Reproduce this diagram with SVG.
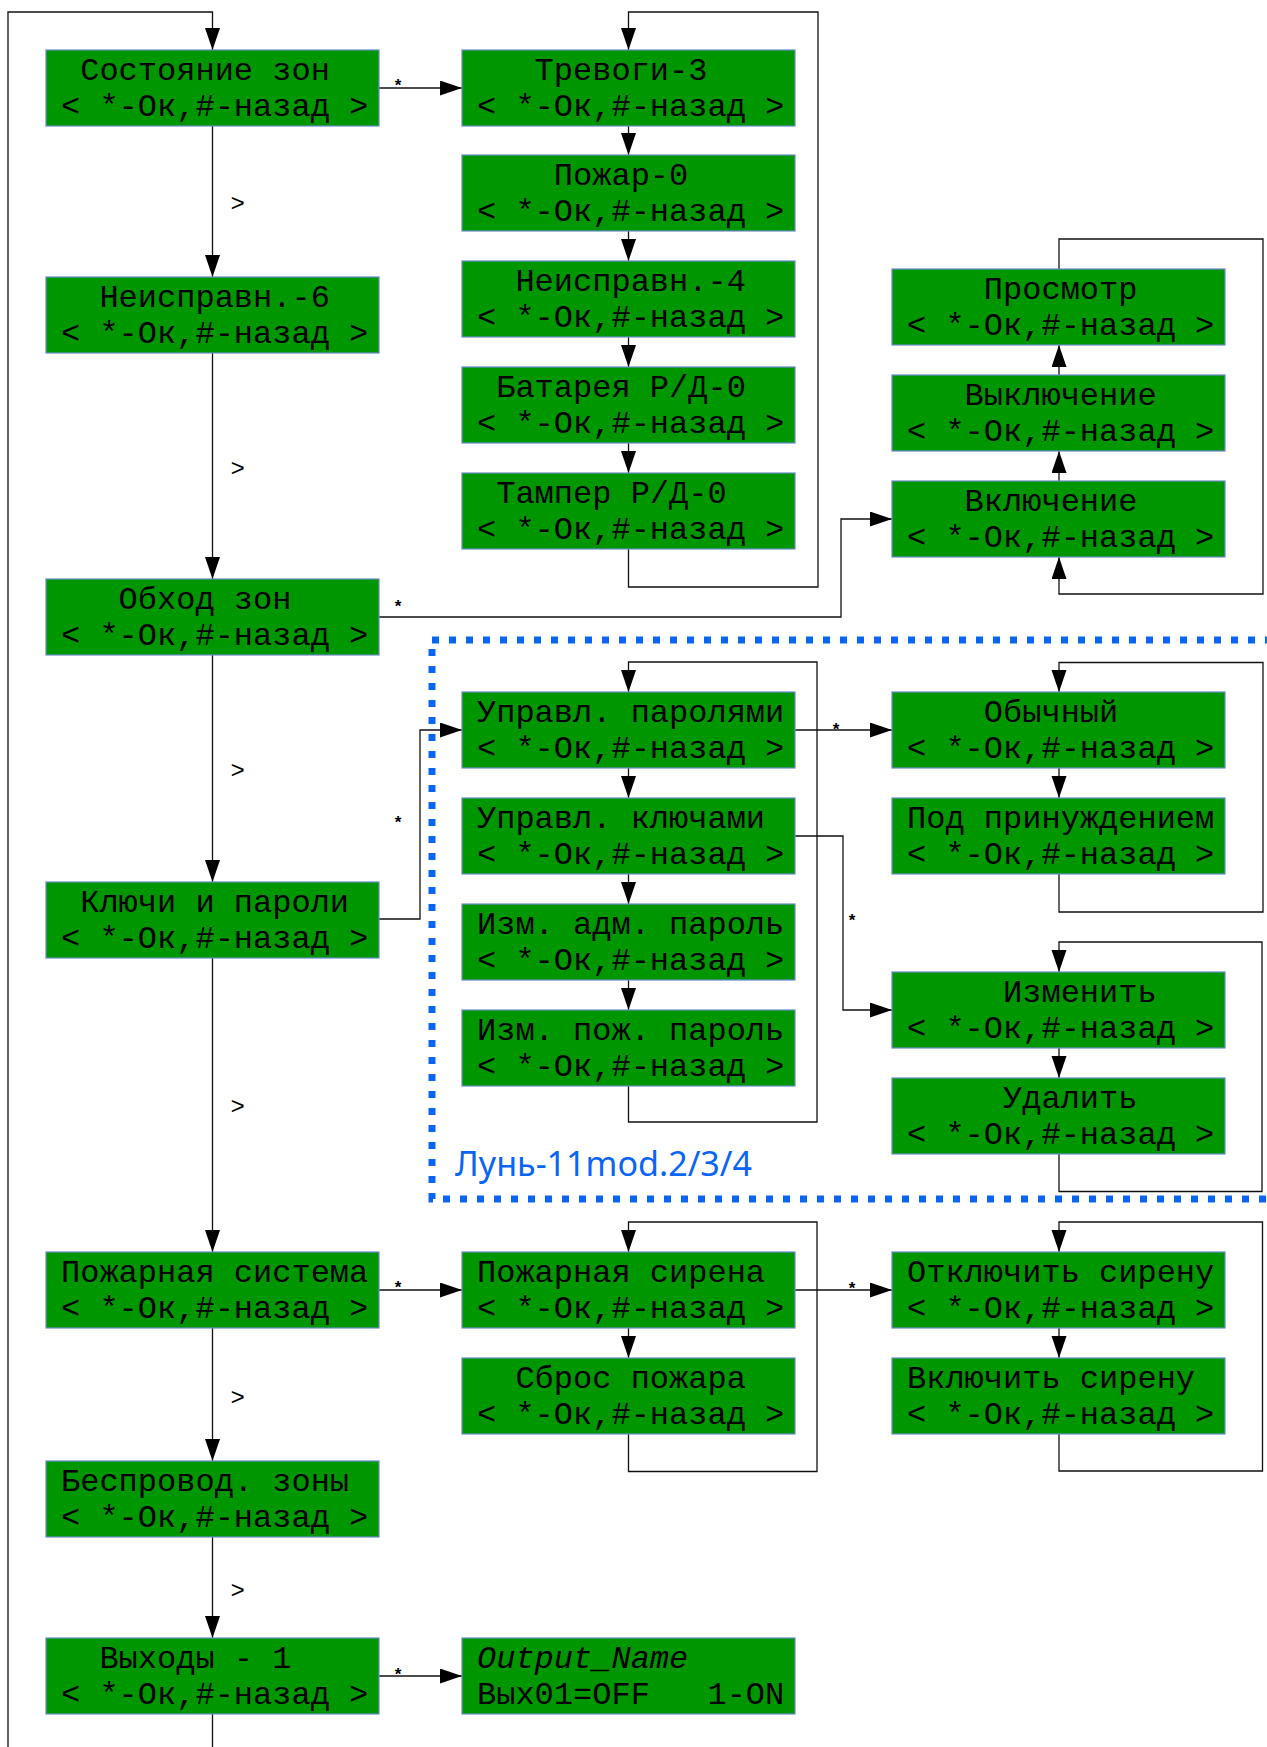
<svg xmlns="http://www.w3.org/2000/svg" width="1267" height="1747" viewBox="0 0 1267 1747">
<style>
.box{fill:#009600;stroke:#6a8cc8;stroke-width:1.2}
.t{font-family:"Liberation Mono","DejaVu Sans Mono",monospace;font-size:32px;fill:#000}
.it{font-style:italic}
.c{fill:none;stroke:#111;stroke-width:1.3}
.a{marker-end:url(#ah)}
.gt{font-family:"Liberation Mono",monospace;font-size:24px;fill:#000}
.st{font-family:"Liberation Sans",Arial,sans-serif;font-size:17px;font-weight:bold;fill:#000;text-anchor:middle}
.lbl{font-family:"Noto Sans","Open Sans",sans-serif;font-size:34px;fill:#0a64f5}
</style>
<defs>
<marker id="ah" markerUnits="userSpaceOnUse" markerWidth="22" markerHeight="16" refX="22" refY="7.5" orient="auto"><path d="M0,0 L22,7.5 L0,15 z" fill="#000"/></marker>
</defs>
<rect x="0" y="0" width="1267" height="1747" fill="#fff"/>

<g id="group-lun">
<rect x="432" y="640" width="860" height="559" fill="none" stroke="#0a64f5" stroke-width="7" stroke-dasharray="7 10"/>
<text class="lbl" x="455" y="1176" textLength="297" lengthAdjust="spacingAndGlyphs">Лунь-11mod.2/3/4</text>
</g>

<g id="connectors">
<path class="c a" d="M212.5,126 V277"/>
<path class="c a" d="M212.5,353 V579"/>
<path class="c a" d="M212.5,655 V882"/>
<path class="c a" d="M212.5,958 V1252"/>
<path class="c a" d="M212.5,1328 V1461"/>
<path class="c a" d="M212.5,1537 V1638"/>
<path class="c" d="M212.5,1714 V1747"/>
<path class="c a" d="M8,1747 V12 H212.5 V50"/>
<path class="c a" d="M379,88 H462"/>
<path class="c a" d="M628.5,126 V155"/>
<path class="c a" d="M628.5,231 V261"/>
<path class="c a" d="M628.5,337 V367"/>
<path class="c a" d="M628.5,443 V473"/>
<path class="c a" d="M628.5,549 V587 H818 V12 H628.5 V50"/>
<path class="c a" d="M379,617 H841 V519 H892"/>
<path class="c a" d="M1059,481 V451"/>
<path class="c a" d="M1059,375 V345"/>
<path class="c a" d="M1059,269 V239 H1263 V594 H1059 V557"/>
<path class="c a" d="M379,919 H420 V730 H462"/>
<path class="c a" d="M628.5,768 V798"/>
<path class="c a" d="M628.5,874 V904"/>
<path class="c a" d="M628.5,980 V1010"/>
<path class="c a" d="M628.5,1086 V1122 H817 V662 H628.5 V692"/>
<path class="c a" d="M795,730 H892"/>
<path class="c a" d="M1059,768 V798"/>
<path class="c a" d="M1059,874 V912 H1263 V662.5 H1059 V692"/>
<path class="c a" d="M795,836 H843 V1010 H892"/>
<path class="c a" d="M1059,1048 V1078"/>
<path class="c a" d="M1059,1154 V1191.5 H1262 V942 H1059 V972"/>
<path class="c a" d="M379,1290 H462"/>
<path class="c a" d="M628.5,1328 V1358"/>
<path class="c a" d="M628.5,1434 V1471.5 H817 V1222 H628.5 V1252"/>
<path class="c a" d="M795,1290 H892"/>
<path class="c a" d="M1059,1328 V1358"/>
<path class="c a" d="M1059,1434 V1471 H1262.5 V1222 H1059 V1252"/>
<path class="c a" d="M379,1676 H462"/>
<text class="gt" x="230.5" y="211">&gt;</text>
<text class="gt" x="230.5" y="476">&gt;</text>
<text class="gt" x="230.5" y="778">&gt;</text>
<text class="gt" x="230.5" y="1114">&gt;</text>
<text class="gt" x="230.5" y="1405">&gt;</text>
<text class="gt" x="230.5" y="1598">&gt;</text>
<text class="st" x="398" y="91">*</text>
<text class="st" x="398" y="612">*</text>
<text class="st" x="398" y="828">*</text>
<text class="st" x="836" y="735">*</text>
<text class="st" x="852" y="926">*</text>
<text class="st" x="398" y="1293">*</text>
<text class="st" x="852" y="1294">*</text>
<text class="st" x="398" y="1680">*</text>
</g>

<g id="n-sostoyanie"><rect class="box" x="46" y="50" width="333" height="76"/><text class="t" xml:space="preserve" x="61" y="80"> Состояние зон</text><text class="t" xml:space="preserve" x="61" y="116">&lt; *-Ок,#-назад &gt;</text></g>
<g id="n-neispravn6"><rect class="box" x="46" y="277" width="333" height="76"/><text class="t" xml:space="preserve" x="61" y="307">  Неисправн.-6</text><text class="t" xml:space="preserve" x="61" y="343">&lt; *-Ок,#-назад &gt;</text></g>
<g id="n-obhod"><rect class="box" x="46" y="579" width="333" height="76"/><text class="t" xml:space="preserve" x="61" y="609">   Обход зон</text><text class="t" xml:space="preserve" x="61" y="645">&lt; *-Ок,#-назад &gt;</text></g>
<g id="n-klyuchi"><rect class="box" x="46" y="882" width="333" height="76"/><text class="t" xml:space="preserve" x="61" y="912"> Ключи и пароли</text><text class="t" xml:space="preserve" x="61" y="948">&lt; *-Ок,#-назад &gt;</text></g>
<g id="n-pozh-sistema"><rect class="box" x="46" y="1252" width="333" height="76"/><text class="t" xml:space="preserve" x="61" y="1282">Пожарная система</text><text class="t" xml:space="preserve" x="61" y="1318">&lt; *-Ок,#-назад &gt;</text></g>
<g id="n-besprovod"><rect class="box" x="46" y="1461" width="333" height="76"/><text class="t" xml:space="preserve" x="61" y="1491">Беспровод. зоны</text><text class="t" xml:space="preserve" x="61" y="1527">&lt; *-Ок,#-назад &gt;</text></g>
<g id="n-vyhody"><rect class="box" x="46" y="1638" width="333" height="76"/><text class="t" xml:space="preserve" x="61" y="1668">  Выходы - 1</text><text class="t" xml:space="preserve" x="61" y="1704">&lt; *-Ок,#-назад &gt;</text></g>

<g id="n-trevogi"><rect class="box" x="462" y="50" width="333" height="76"/><text class="t" xml:space="preserve" x="477" y="80">   Тревоги-3</text><text class="t" xml:space="preserve" x="477" y="116">&lt; *-Ок,#-назад &gt;</text></g>
<g id="n-pozhar0"><rect class="box" x="462" y="155" width="333" height="76"/><text class="t" xml:space="preserve" x="477" y="185">    Пожар-0</text><text class="t" xml:space="preserve" x="477" y="221">&lt; *-Ок,#-назад &gt;</text></g>
<g id="n-neispravn4"><rect class="box" x="462" y="261" width="333" height="76"/><text class="t" xml:space="preserve" x="477" y="291">  Неисправн.-4</text><text class="t" xml:space="preserve" x="477" y="327">&lt; *-Ок,#-назад &gt;</text></g>
<g id="n-batareya"><rect class="box" x="462" y="367" width="333" height="76"/><text class="t" xml:space="preserve" x="477" y="397"> Батарея Р/Д-0</text><text class="t" xml:space="preserve" x="477" y="433">&lt; *-Ок,#-назад &gt;</text></g>
<g id="n-tamper"><rect class="box" x="462" y="473" width="333" height="76"/><text class="t" xml:space="preserve" x="477" y="503"> Тампер Р/Д-0</text><text class="t" xml:space="preserve" x="477" y="539">&lt; *-Ок,#-назад &gt;</text></g>

<g id="n-prosmotr"><rect class="box" x="892" y="269" width="333" height="76"/><text class="t" xml:space="preserve" x="907" y="299">    Просмотр</text><text class="t" xml:space="preserve" x="907" y="335">&lt; *-Ок,#-назад &gt;</text></g>
<g id="n-vykl"><rect class="box" x="892" y="375" width="333" height="76"/><text class="t" xml:space="preserve" x="907" y="405">   Выключение</text><text class="t" xml:space="preserve" x="907" y="441">&lt; *-Ок,#-назад &gt;</text></g>
<g id="n-vkl"><rect class="box" x="892" y="481" width="333" height="76"/><text class="t" xml:space="preserve" x="907" y="511">   Включение</text><text class="t" xml:space="preserve" x="907" y="547">&lt; *-Ок,#-назад &gt;</text></g>

<g id="n-upr-parol"><rect class="box" x="462" y="692" width="333" height="76"/><text class="t" xml:space="preserve" x="477" y="722">Управл. паролями</text><text class="t" xml:space="preserve" x="477" y="758">&lt; *-Ок,#-назад &gt;</text></g>
<g id="n-upr-klyuch"><rect class="box" x="462" y="798" width="333" height="76"/><text class="t" xml:space="preserve" x="477" y="828">Управл. ключами</text><text class="t" xml:space="preserve" x="477" y="864">&lt; *-Ок,#-назад &gt;</text></g>
<g id="n-izm-adm"><rect class="box" x="462" y="904" width="333" height="76"/><text class="t" xml:space="preserve" x="477" y="934">Изм. адм. пароль</text><text class="t" xml:space="preserve" x="477" y="970">&lt; *-Ок,#-назад &gt;</text></g>
<g id="n-izm-pozh"><rect class="box" x="462" y="1010" width="333" height="76"/><text class="t" xml:space="preserve" x="477" y="1040">Изм. пож. пароль</text><text class="t" xml:space="preserve" x="477" y="1076">&lt; *-Ок,#-назад &gt;</text></g>

<g id="n-obychny"><rect class="box" x="892" y="692" width="333" height="76"/><text class="t" xml:space="preserve" x="907" y="722">    Обычный</text><text class="t" xml:space="preserve" x="907" y="758">&lt; *-Ок,#-назад &gt;</text></g>
<g id="n-pod-prin"><rect class="box" x="892" y="798" width="333" height="76"/><text class="t" xml:space="preserve" x="907" y="828">Под принуждением</text><text class="t" xml:space="preserve" x="907" y="864">&lt; *-Ок,#-назад &gt;</text></g>
<g id="n-izmenit"><rect class="box" x="892" y="972" width="333" height="76"/><text class="t" xml:space="preserve" x="907" y="1002">     Изменить</text><text class="t" xml:space="preserve" x="907" y="1038">&lt; *-Ок,#-назад &gt;</text></g>
<g id="n-udalit"><rect class="box" x="892" y="1078" width="333" height="76"/><text class="t" xml:space="preserve" x="907" y="1108">     Удалить</text><text class="t" xml:space="preserve" x="907" y="1144">&lt; *-Ок,#-назад &gt;</text></g>

<g id="n-pozh-sirena"><rect class="box" x="462" y="1252" width="333" height="76"/><text class="t" xml:space="preserve" x="477" y="1282">Пожарная сирена</text><text class="t" xml:space="preserve" x="477" y="1318">&lt; *-Ок,#-назад &gt;</text></g>
<g id="n-sbros"><rect class="box" x="462" y="1358" width="333" height="76"/><text class="t" xml:space="preserve" x="477" y="1388">  Сброс пожара</text><text class="t" xml:space="preserve" x="477" y="1424">&lt; *-Ок,#-назад &gt;</text></g>
<g id="n-otkl-sirenu"><rect class="box" x="892" y="1252" width="333" height="76"/><text class="t" xml:space="preserve" x="907" y="1282">Отключить сирену</text><text class="t" xml:space="preserve" x="907" y="1318">&lt; *-Ок,#-назад &gt;</text></g>
<g id="n-vkl-sirenu"><rect class="box" x="892" y="1358" width="333" height="76"/><text class="t" xml:space="preserve" x="907" y="1388">Включить сирену</text><text class="t" xml:space="preserve" x="907" y="1424">&lt; *-Ок,#-назад &gt;</text></g>

<g id="n-output"><rect class="box" x="462" y="1638" width="333" height="76"/><text class="t it" xml:space="preserve" x="477" y="1668">Output_Name</text><text class="t" xml:space="preserve" x="477" y="1704">Вых01=OFF   1-ON</text></g>
</svg>
